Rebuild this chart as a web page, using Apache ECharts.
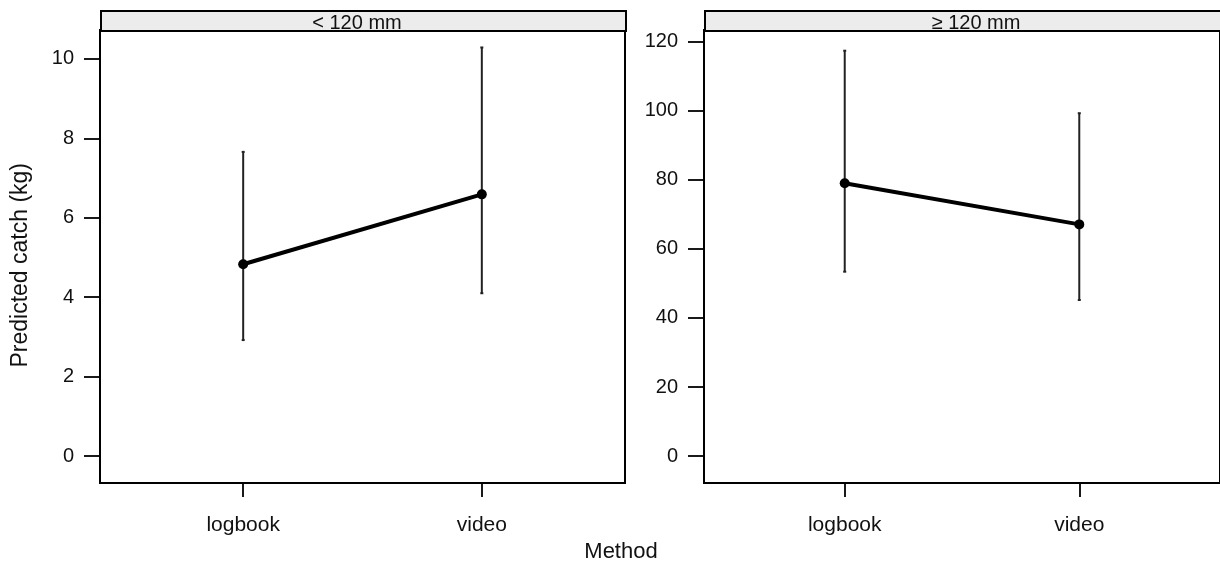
<!DOCTYPE html>
<html>
<head>
<meta charset="utf-8">
<script src="https://cdn.jsdelivr.net/npm/echarts@6/dist/echarts.min.js"></script>
<style>
  html, body { margin: 0; padding: 0; background: #fff; }
  #main { width: 1220px; height: 564px; }
</style>
</head>
<body>
<div id="main"></div>
<script>
var methods = ['logbook', 'video'];
var panelNames = ['< 120 mm', '\u2265 120 mm'];

// predicted catch (kg) per method, with lower / upper limits
var smallFit = [4.83, 6.59];
var smallLow = [2.92, 4.10];
var smallHigh = [7.66, 10.29];

var largeFit = [79.0, 67.1];
var largeLow = [53.4, 45.2];
var largeHigh = [117.4, 99.3];

var smallTicks = [0, 2, 4, 6, 8, 10];
var largeTicks = [0, 20, 40, 60, 80, 100, 120];

var font = '"Liberation Sans", Arial, sans-serif';
var myChart = echarts.init(document.getElementById('main'));

function xAxis(idx) {
    return {
        gridIndex: idx,
        type: 'value',
        min: 0.4,
        max: 2.6,
        axisLine: { show: false, onZero: false },
        splitLine: { show: false },
        axisTick: { show: true, length: 14, customValues: [1, 2], lineStyle: { color: '#000', width: 1.8 } },
        axisLabel: {
            customValues: [1, 2],
            margin: 32,
            fontSize: 21,
            fontFamily: font,
            color: '#111',
            formatter: function (v) { return methods[Math.round(v) - 1]; }
        }
    };
}

function yAxis(idx, min, max, ticks) {
    return {
        gridIndex: idx,
        type: 'value',
        min: min,
        max: max,
        axisLine: { show: false, onZero: false },
        splitLine: { show: false },
        axisTick: { show: true, length: 16, customValues: ticks, lineStyle: { color: '#000', width: 1.8 } },
        axisLabel: { customValues: ticks, margin: 26, fontSize: 20, fontFamily: font, color: '#111' }
    };
}

function points(vals) {
    return vals.map(function (v, i) { return [i + 1, v]; });
}

function bars(low, high) {
    return low.map(function (v, i) { return [i + 1, v, high[i]]; });
}

function errorSeries(idx, low, high) {
    return {
        type: 'custom',
        xAxisIndex: idx,
        yAxisIndex: idx,
        data: bars(low, high),
        z: 1,
        renderItem: function (params, api) {
            var a = api.coord([api.value(0), api.value(1)]);
            var b = api.coord([api.value(0), api.value(2)]);
            var st = { stroke: '#222', lineWidth: 2 };
            return {
                type: 'group',
                children: [
                    { type: 'line', shape: { x1: a[0], y1: a[1], x2: b[0], y2: b[1] }, style: st },
                    { type: 'line', shape: { x1: a[0] - 1.5, y1: a[1], x2: a[0] + 1.5, y2: a[1] }, style: st },
                    { type: 'line', shape: { x1: b[0] - 1.5, y1: b[1], x2: b[0] + 1.5, y2: b[1] }, style: st }
                ]
            };
        }
    };
}

function lineSeries(idx, vals) {
    return {
        type: 'line',
        xAxisIndex: idx,
        yAxisIndex: idx,
        data: points(vals),
        z: 3,
        symbol: 'circle',
        symbolSize: 10,
        itemStyle: { color: '#000' },
        lineStyle: { color: '#000', width: 4 },
        animation: false
    };
}

function strip(left, width, cx, text) {
    return [
        { type: 'rect', left: left, top: 10, shape: { width: width, height: 20 },
          style: { fill: '#ececec', stroke: '#000', lineWidth: 2 } },
        { type: 'text', x: cx, y: 13, z: 10,
          style: { text: text, fontSize: 20, fontFamily: font, fill: '#111', textAlign: 'center' } }
    ];
}

var option = {
    animation: false,
    backgroundColor: '#fff',
    grid: [
        { left: 100, top: 30, width: 525, height: 453, show: true, borderColor: '#000', borderWidth: 2, backgroundColor: 'transparent' },
        { left: 704, top: 30, width: 527, height: 453, show: true, borderColor: '#000', borderWidth: 2, backgroundColor: 'transparent' }
    ],
    xAxis: [xAxis(0), xAxis(1)],
    yAxis: [yAxis(0, -0.68, 10.73, smallTicks), yAxis(1, -7.8, 123.4, largeTicks)],
    series: [
        errorSeries(0, smallLow, smallHigh),
        lineSeries(0, smallFit),
        errorSeries(1, largeLow, largeHigh),
        lineSeries(1, largeFit)
    ],
    graphic: strip(100, 525, 357, panelNames[0]).concat(strip(704, 527, 976, panelNames[1])).concat([
        { type: 'text', x: 621, y: 541, style: { text: 'Method', fontSize: 22, fontFamily: font, fill: '#111', textAlign: 'center' } },
        { type: 'text', left: 9, top: 163, rotation: Math.PI / 2,
          style: { text: 'Predicted catch (kg)', fontSize: 23, fontFamily: font, fill: '#111' } }
    ])
};

myChart.setOption(option);
</script>
</body>
</html>
